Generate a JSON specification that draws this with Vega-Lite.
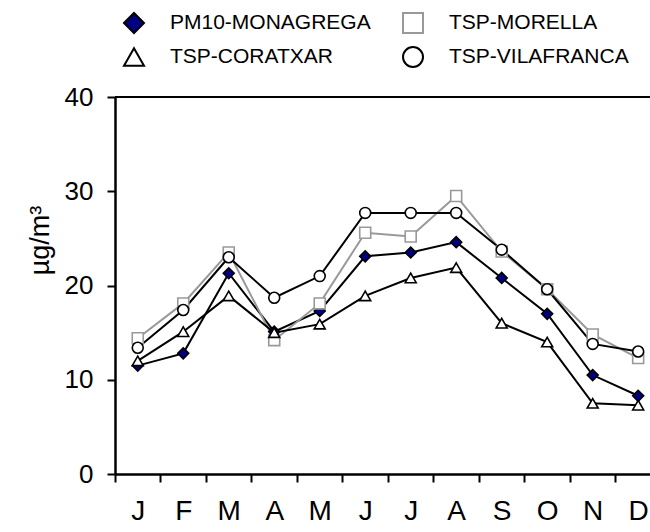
{
  "$schema": "https://vega.github.io/schema/vega-lite/v6.json",
  "width": 535,
  "height": 377,
  "autosize": "none",
  "padding": {"left": 115, "top": 97, "right": 0, "bottom": 58},
  "background": "white",
  "config": {
    "view": {"stroke": null},
    "font": "Liberation Sans",
    "axis": {"domainColor": "black", "tickColor": "black", "labelColor": "black", "titleColor": "black", "grid": false, "labelFont": "Liberation Sans", "titleFont": "Liberation Sans"},
    "legend": {"labelFont": "Liberation Sans"}
  },
  "data": {
    "values": [
      {"m": 1, "series": "PM10-MONAGREGA", "v": 11.5},
      {"m": 2, "series": "PM10-MONAGREGA", "v": 12.8},
      {"m": 3, "series": "PM10-MONAGREGA", "v": 21.3},
      {"m": 4, "series": "PM10-MONAGREGA", "v": 15.1},
      {"m": 5, "series": "PM10-MONAGREGA", "v": 17.3},
      {"m": 6, "series": "PM10-MONAGREGA", "v": 23.1},
      {"m": 7, "series": "PM10-MONAGREGA", "v": 23.5},
      {"m": 8, "series": "PM10-MONAGREGA", "v": 24.6},
      {"m": 9, "series": "PM10-MONAGREGA", "v": 20.8},
      {"m": 10, "series": "PM10-MONAGREGA", "v": 17.0},
      {"m": 11, "series": "PM10-MONAGREGA", "v": 10.5},
      {"m": 12, "series": "PM10-MONAGREGA", "v": 8.3},
      {"m": 1, "series": "TSP-MORELLA", "v": 14.4},
      {"m": 2, "series": "TSP-MORELLA", "v": 18.1},
      {"m": 3, "series": "TSP-MORELLA", "v": 23.5},
      {"m": 4, "series": "TSP-MORELLA", "v": 14.2},
      {"m": 5, "series": "TSP-MORELLA", "v": 18.1},
      {"m": 6, "series": "TSP-MORELLA", "v": 25.6},
      {"m": 7, "series": "TSP-MORELLA", "v": 25.2},
      {"m": 8, "series": "TSP-MORELLA", "v": 29.5},
      {"m": 9, "series": "TSP-MORELLA", "v": 23.6},
      {"m": 10, "series": "TSP-MORELLA", "v": 19.6},
      {"m": 11, "series": "TSP-MORELLA", "v": 14.8},
      {"m": 12, "series": "TSP-MORELLA", "v": 12.3},
      {"m": 1, "series": "TSP-CORATXAR", "v": 12.0},
      {"m": 2, "series": "TSP-CORATXAR", "v": 15.1},
      {"m": 3, "series": "TSP-CORATXAR", "v": 18.9},
      {"m": 4, "series": "TSP-CORATXAR", "v": 15.0},
      {"m": 5, "series": "TSP-CORATXAR", "v": 15.9},
      {"m": 6, "series": "TSP-CORATXAR", "v": 18.9},
      {"m": 7, "series": "TSP-CORATXAR", "v": 20.8},
      {"m": 8, "series": "TSP-CORATXAR", "v": 21.9},
      {"m": 9, "series": "TSP-CORATXAR", "v": 16.0},
      {"m": 10, "series": "TSP-CORATXAR", "v": 14.0},
      {"m": 11, "series": "TSP-CORATXAR", "v": 7.5},
      {"m": 12, "series": "TSP-CORATXAR", "v": 7.3},
      {"m": 1, "series": "TSP-VILAFRANCA", "v": 13.4},
      {"m": 2, "series": "TSP-VILAFRANCA", "v": 17.4},
      {"m": 3, "series": "TSP-VILAFRANCA", "v": 23.0},
      {"m": 4, "series": "TSP-VILAFRANCA", "v": 18.7},
      {"m": 5, "series": "TSP-VILAFRANCA", "v": 21.0},
      {"m": 6, "series": "TSP-VILAFRANCA", "v": 27.7},
      {"m": 7, "series": "TSP-VILAFRANCA", "v": 27.7},
      {"m": 8, "series": "TSP-VILAFRANCA", "v": 27.7},
      {"m": 9, "series": "TSP-VILAFRANCA", "v": 23.8},
      {"m": 10, "series": "TSP-VILAFRANCA", "v": 19.6},
      {"m": 11, "series": "TSP-VILAFRANCA", "v": 13.8},
      {"m": 12, "series": "TSP-VILAFRANCA", "v": 13.0}
    ]
  },
  "layer": [
    {
      "mark": {"type": "line", "strokeWidth": 2},
      "encoding": {
        "x": {"field": "m", "type": "quantitative", "scale": {"domain": [0.5, 12.26], "nice": false, "zero": false},
          "axis": {"title": null, "values": [0.5, 1, 1.5, 2, 2.5, 3, 3.5, 4, 4.5, 5, 5.5, 6, 6.5, 7, 7.5, 8, 8.5, 9, 9.5, 10, 10.5, 11, 11.5, 12],
            "tickCount": 40,
            "labelExpr": "datum.value == 1 ? 'J' : datum.value == 2 ? 'F' : datum.value == 3 ? 'M' : datum.value == 4 ? 'A' : datum.value == 5 ? 'M' : datum.value == 6 ? 'J' : datum.value == 7 ? 'J' : datum.value == 8 ? 'A' : datum.value == 9 ? 'S' : datum.value == 10 ? 'O' : datum.value == 11 ? 'N' : datum.value == 12 ? 'D' : ''",
            "labelFontSize": 28, "labelPadding": 15, "labelOverlap": false, "labelFlush": false,
            "tickSize": 8, "tickWidth": 2, "tickOpacity": {"condition": {"test": "datum.value % 1 != 0", "value": 1}, "value": 0},
            "domainWidth": 2.5}},
        "y": {"field": "v", "type": "quantitative", "scale": {"domain": [0, 40], "nice": false},
          "axis": {"values": [0, 10, 20, 30, 40], "title": "µg/m³", "titleFontSize": 27, "titleFontWeight": "normal",
            "titleX": -67, "titleY": 143, "titleAngle": -90, "titleBaseline": "alphabetic", "titleAlign": "center",
            "labelFontSize": 26, "labelPadding": 14, "tickSize": 8, "tickWidth": 2, "domainWidth": 2.5}},
        "detail": {"field": "series"},
        "stroke": {"field": "series", "type": "nominal", "legend": null,
          "scale": {"domain": ["TSP-MORELLA", "PM10-MONAGREGA", "TSP-CORATXAR", "TSP-VILAFRANCA"], "range": ["#999999", "#000000", "#000000", "#000000"]}}
      }
    },
    {
      "mark": {"type": "point", "filled": true, "size": 120, "strokeWidth": 1.6, "opacity": 1},
      "encoding": {
        "x": {"field": "m", "type": "quantitative"},
        "y": {"field": "v", "type": "quantitative"},
        "stroke": {"field": "series", "type": "nominal", "legend": null},
        "fill": {"field": "series", "type": "nominal", "legend": null,
          "scale": {"domain": ["TSP-VILAFRANCA", "TSP-MORELLA", "TSP-CORATXAR", "PM10-MONAGREGA"], "range": ["#ffffff", "#ffffff", "#ffffff", "#000080"]}},
        "shape": {"field": "series", "type": "nominal",
          "scale": {"domain": ["PM10-MONAGREGA", "TSP-MORELLA", "TSP-CORATXAR", "TSP-VILAFRANCA"], "range": ["diamond", "square", "triangle-up", "circle"]},
          "legend": {"title": null, "orient": "none", "direction": "horizontal", "legendX": -9, "legendY": -85, "columns": 2, "padding": 0,
            "columnPadding": 14, "rowPadding": 6, "labelFontSize": 21, "labelFontWeight": "normal", "labelColor": "black", "labelLimit": 0,
            "labelOffset": 25, "symbolOffset": 17, "symbolSize": 400, "symbolStrokeWidth": 2, "symbolOpacity": 1,
            "symbolType": {"expr": "datum.value === 'PM10-MONAGREGA' ? 'M-2.8,0H-0.55M0.55,0H2.8M0,-0.55L0.55,0L0,0.55L-0.55,0Z' : datum.value === 'TSP-MORELLA' ? 'M-2.8,0H-0.5M0.5,0H2.8M-0.5,-0.5H0.5V0.5H-0.5Z' : datum.value === 'TSP-CORATXAR' ? 'M-2.8,0H-0.33M0.33,0H2.8M0,-0.55L0.6,0.45L-0.6,0.45Z' : 'M-2.8,0H-0.5M0.5,0H2.8M0.5,0A0.5,0.5,0,1,1,-0.5,0A0.5,0.5,0,1,1,0.5,0Z'"},
            "symbolFillColor": {"expr": "datum.value === 'PM10-MONAGREGA' ? '#000080' : '#ffffff'"},
            "symbolStrokeColor": {"expr": "datum.value === 'TSP-MORELLA' ? '#999999' : '#000000'"}}
        }
      }
    },
    {
      "mark": {"type": "rule", "color": "black", "strokeWidth": 2},
      "encoding": {"y": {"datum": 40, "type": "quantitative"}}
    }
  ]
}
